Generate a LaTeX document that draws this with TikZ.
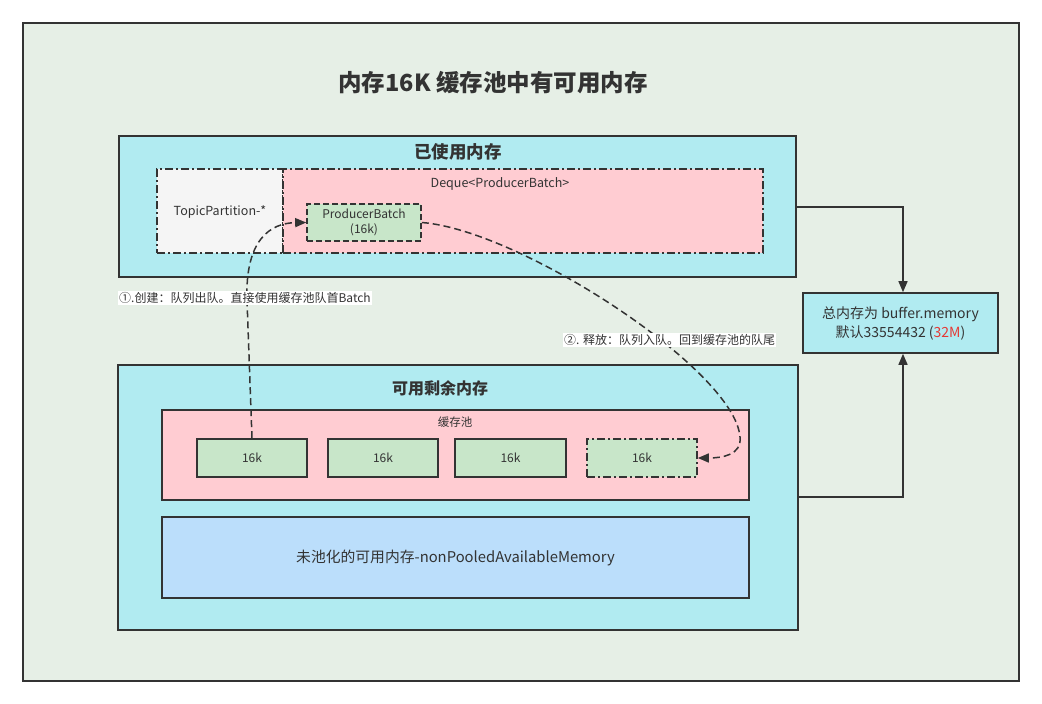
\documentclass[tikz,border=0pt]{standalone}
\usepackage{fontspec}
\setmainfont{Noto Sans CJK SC}
\usetikzlibrary{arrows.meta}
\definecolor{bgc}{HTML}{E6EFE6}
\definecolor{cyanc}{HTML}{B1EBF1}
\definecolor{pinkc}{HTML}{FFCCD2}
\definecolor{greenc}{HTML}{C8E6C9}
\definecolor{grayc}{HTML}{F5F5F5}
\definecolor{bluec}{HTML}{BBDEFB}
\definecolor{linec}{HTML}{333333}
\definecolor{redc}{HTML}{E53935}
\tikzset{
  boxs/.style={draw=linec, line width=1.6pt, rectangle, inner sep=0pt, text=linec, align=center},
  dashdot/.style={dash pattern=on 8pt off 3pt on 2pt off 3pt},
  dashb/.style={dash pattern=on 6pt off 3pt},
  txt/.style={text=linec, inner sep=0pt, align=center},
  conn/.style={draw=linec, line width=1.4pt, -{Triangle[length=11pt,width=9pt]}},
  dconn/.style={draw=linec, line width=1.5pt, dash pattern=on 7pt off 4pt, -{Triangle[length=11pt,width=9pt]}},
  lbl/.style={fill=white, text=linec, inner sep=1pt, font=\fontsize{12}{14}\selectfont}
}
\begin{document}
\begin{tikzpicture}[x=1pt,y=-1pt]
\fill[white] (0,0) rectangle (1042,704);
\useasboundingbox (0,0) rectangle (1042,704);
\node[boxs, fill=bgc, line width=1.3pt, minimum width=996pt, minimum height=658pt] (frame) at (521,352) {};
\node[txt, font=\fontsize{23.5}{27}\selectfont\bfseries] (title) at (493,83) {内存16K 缓存池中有可用内存};

% used memory
\node[boxs, fill=cyanc, minimum width=677pt, minimum height=141pt] (used) at (457.5,206.5) {};
\node[txt, font=\fontsize{17.5}{21}\selectfont\bfseries] (usedt) at (458,152) {已使用内存};
\node[boxs, fill=grayc, dashdot, minimum width=126pt, minimum height=84pt] (tp) at (220,211) {};
\node[boxs, fill=pinkc, dashdot, minimum width=480pt, minimum height=84pt] (dq) at (523,211) {};
\node[txt, font=\fontsize{12.5}{15}\selectfont] (tpt) at (220,212) {TopicPartition-*};
\node[txt, font=\fontsize{12.5}{15}\selectfont] (dqt) at (500,184) {Deque<ProducerBatch>};
\node[boxs, fill=greenc, dashb, minimum width=114pt, minimum height=37pt, font=\fontsize{12}{15}\selectfont] (pb) at (364,222.5) {ProducerBatch\\(16k)};

% total memory
\node[boxs, fill=cyanc, minimum width=195pt, minimum height=60pt, font=\fontsize{14}{19}\selectfont] (tot) at (900.5,323) {总内存为 buffer.memory\\默认33554432 (\textcolor{redc}{32M})};

% available memory
\node[boxs, fill=cyanc, minimum width=680pt, minimum height=265pt] (avail) at (458,497.5) {};
\node[txt, font=\fontsize{16}{20}\selectfont\bfseries] (availt) at (440,388) {可用剩余内存};
\node[boxs, fill=pinkc, minimum width=587pt, minimum height=90pt] (pool) at (455.5,455) {};
\node[txt, font=\fontsize{11.5}{13}\selectfont] (poolt) at (455,422) {缓存池};
\node[boxs, fill=greenc, minimum width=110pt, minimum height=38pt, font=\fontsize{12}{14}\selectfont] (b1) at (252,458) {16k};
\node[boxs, fill=greenc, minimum width=110pt, minimum height=38pt, font=\fontsize{12}{14}\selectfont] (b2) at (383,458) {16k};
\node[boxs, fill=greenc, minimum width=111pt, minimum height=38pt, font=\fontsize{12}{14}\selectfont] (b3) at (510.5,458) {16k};
\node[boxs, fill=greenc, dashdot, minimum width=110pt, minimum height=38pt, font=\fontsize{12}{14}\selectfont] (b4) at (642,458) {16k};
\node[boxs, fill=bluec, minimum width=587pt, minimum height=81pt, font=\fontsize{14.8}{18}\selectfont] (np) at (455.5,557.5) {未池化的可用内存-nonPooledAvailableMemory};

% connectors to total
\draw[conn] (used.east |- 0,207) -- (903,207) -- (tot.north -| 903,0);
\draw[conn] (avail.east |- 0,497) -- (903,497) -- (tot.south -| 903,0);

% dashed flows
\draw[dconn] (b1.north) -- (247,300) .. controls (245,240) and (270,223) .. (pb.west);
\draw[dconn] (pb.east) .. controls (520,230) and (735,370) .. (740,437) .. controls (742,455) and (722,458) .. (b4.east);

\node[lbl, anchor=west] (l1) at (118,298) {①.创建：队列出队。直接使用缓存池队首Batch};
\node[lbl, anchor=west] (l2) at (563,340) {②. 释放：队列入队。回到缓存池的队尾};
\end{tikzpicture}
\end{document}
